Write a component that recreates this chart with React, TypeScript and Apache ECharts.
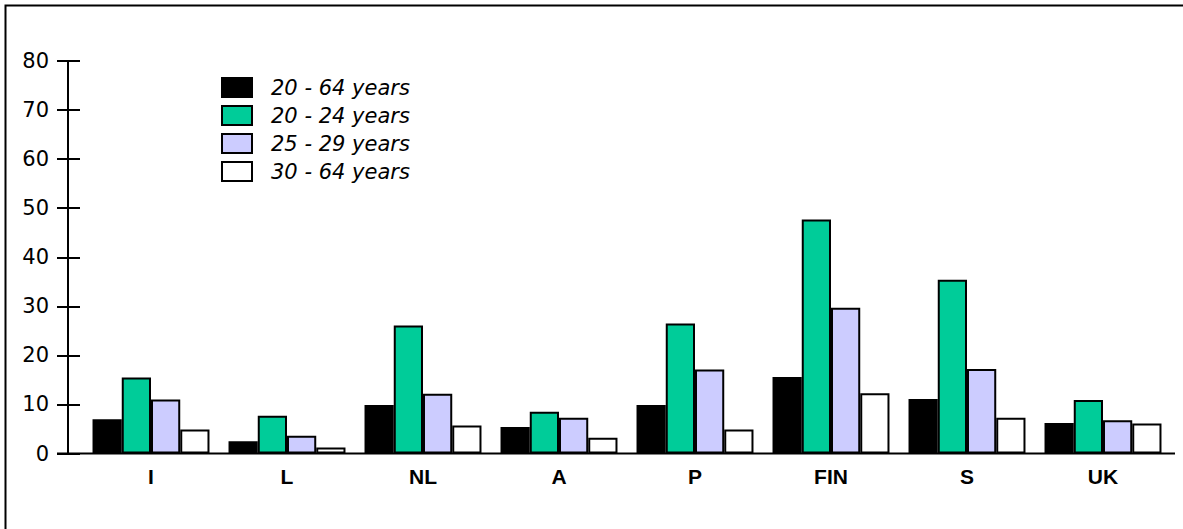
import React, { useEffect, useRef } from "react";
import * as echarts from "echarts";

const categories = ["I", "L", "NL", "A", "P", "FIN", "S", "UK"];
const seriesNames = ["20 - 64 years", "20 - 24 years", "25 - 29 years", "30 - 64 years"];
const age20to64 = [7.0, 2.5, 9.9, 5.4, 9.9, 15.6, 11.1, 6.2];
const age20to24 = [15.5, 7.7, 26.1, 8.5, 26.5, 47.7, 35.4, 10.9];
const age25to29 = [11.0, 3.6, 12.2, 7.3, 17.1, 29.7, 17.2, 6.8];
const age30to64 = [4.9, 1.2, 5.7, 3.2, 4.9, 12.3, 7.3, 6.1];
const colors = ["#000000", "#00cc99", "#ccccff", "#ffffff"];

export default function App() {
  const ref = useRef<HTMLDivElement>(null);
  useEffect(() => {
    if (!ref.current) return;
    const chart = echarts.init(ref.current, undefined, { renderer: "svg" });
    const dataSets = [age20to64, age20to24, age25to29, age30to64];
    const font = "'DejaVu Sans', sans-serif";
    chart.setOption({
      animation: false,
      backgroundColor: "#ffffff",
      grid: { left: 83, right: 12, top: 61, bottom: 75.5 },
      legend: {
        orient: "vertical",
        left: 216,
        top: 72,
        itemWidth: 30,
        itemHeight: 19,
        itemGap: 7,
        icon: "rect",
        data: seriesNames,
        textStyle: {
          fontFamily: font,
          fontSize: 21,
          fontStyle: "italic",
          color: "#000",
          lineHeight: 19,
          padding: [0, 0, 0, 14],
        },
      },
      xAxis: {
        type: "category",
        data: categories,
        axisLine: { show: false },
        axisTick: { show: false },
        axisLabel: {
          fontFamily: "'Liberation Sans', Arial, sans-serif",
          fontSize: 21,
          fontWeight: "bold",
          color: "#000",
          margin: 12,
        },
      },
      yAxis: [
        {
          type: "value",
          min: 0,
          max: 80,
          interval: 10,
          offset: 15,
          splitLine: { show: false },
          axisLine: { show: true, lineStyle: { color: "#000", width: 2 } },
          axisTick: { show: true, length: 11, lineStyle: { color: "#000", width: 2 } },
          axisLabel: { fontFamily: font, fontSize: 21, color: "#000", margin: 19 },
        },
        {
          type: "value",
          position: "left",
          min: 0,
          max: 80,
          interval: 10,
          offset: 15,
          splitLine: { show: false },
          axisLine: { show: false },
          axisTick: { show: true, inside: true, length: 12, lineStyle: { color: "#000", width: 2 } },
          axisLabel: { show: false },
        },
      ],
      graphic: [
        {
          type: "rect",
          shape: { x: 5.5, y: 5.5, width: 1300, height: 700 },
          style: { fill: "none", stroke: "#000", lineWidth: 2 },
          silent: true,
        },
        {
          type: "line",
          shape: { x1: 57, y1: 453.5, x2: 1175, y2: 453.5 },
          style: { stroke: "#000", lineWidth: 2 },
          z: 10,
          silent: true,
        },
      ],
      series: seriesNames.map((name, i) => ({
        name,
        type: "bar",
        data: dataSets[i],
        barGap: "0%",
        barCategoryGap: "14%",
        itemStyle: { color: colors[i], borderColor: "#000", borderWidth: 2 },
      })),
    });
    return () => chart.dispose();
  }, []);
  return (
    <div
      ref={ref}
      style={{ position: "absolute", left: 0, top: 0, width: 1183, height: 529 }}
    />
  );
}
